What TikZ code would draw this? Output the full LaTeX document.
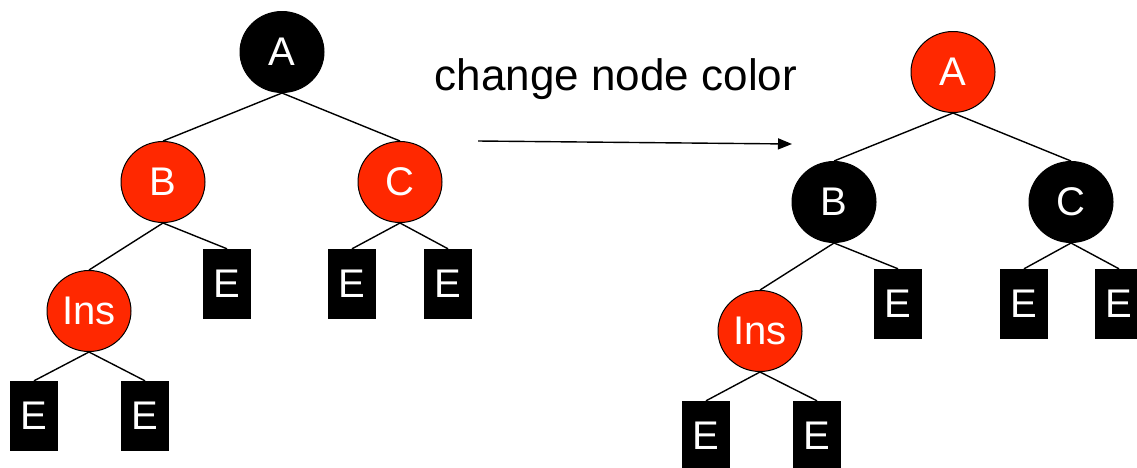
\documentclass[tikz,border=0pt]{standalone}
\usepackage{fontspec}
\setmainfont{Liberation Sans}
\usetikzlibrary{shapes.geometric,arrows.meta}
\definecolor{rbred}{RGB}{255,40,0}
\begin{document}
\begin{tikzpicture}[x=1pt,y=-1pt,
  rbnode/.style={ellipse,draw=black,line width=1pt,minimum width=84pt,minimum height=81pt,inner sep=0pt,text=white,font=\fontsize{40}{40}\selectfont},
  rednode/.style={rbnode,fill=rbred},
  blacknode/.style={rbnode,fill=black},
  leaf/.style={rectangle,fill=black,minimum width=48pt,minimum height=70pt,inner sep=0pt,text=white,font=\fontsize{40}{40}\selectfont},
  edge/.style={draw=black,line width=1.4pt}]
\useasboundingbox (0,0) rectangle (1137,467);
% left tree
\node[blacknode] (LA) at (282,52) {A};
\node[rednode] (LB) at (163,182) {B};
\node[rednode] (LC) at (400,182) {C};
\node[rednode] (LI) at (89,311) {Ins};
\node[leaf] (LBE) at (227,284) {E};
\node[leaf] (LCE1) at (352,284) {E};
\node[leaf] (LCE2) at (448,284) {E};
\node[leaf] (LIE1) at (34,416) {E};
\node[leaf] (LIE2) at (145,416) {E};
\draw[edge] (LA.south) -- (LB.north);
\draw[edge] (LA.south) -- (LC.north);
\draw[edge] (LB.south) -- (LI.north);
\draw[edge] (LB.south) -- (LBE.north);
\draw[edge] (LC.south) -- (LCE1.north);
\draw[edge] (LC.south) -- (LCE2.north);
\draw[edge] (LI.south) -- (LIE1.north);
\draw[edge] (LI.south) -- (LIE2.north);
% label and arrow
\node[font=\fontsize{44}{44}\selectfont,anchor=base] (lbl) at (616,90) {change node color};
\coordinate (arrS) at (478,141);
\coordinate (arrE) at (792,144);
\draw[line width=1.4pt,-{Triangle[length=14pt,width=11pt]}] (arrS) -- (arrE);
% right tree
\node[rednode] (RA) at (953,72) {A};
\node[blacknode] (RB) at (834,202) {B};
\node[blacknode] (RC) at (1071,202) {C};
\node[rednode] (RI) at (760,331) {Ins};
\node[leaf] (RBE) at (898,304) {E};
\node[leaf] (RCE1) at (1024,304) {E};
\node[leaf] (RCE2) at (1119,304) {E};
\node[leaf] (RIE1) at (706,436) {E};
\node[leaf] (RIE2) at (817,436) {E};
\draw[edge] (RA.south) -- (RB.north);
\draw[edge] (RA.south) -- (RC.north);
\draw[edge] (RB.south) -- (RI.north);
\draw[edge] (RB.south) -- (RBE.north);
\draw[edge] (RC.south) -- (RCE1.north);
\draw[edge] (RC.south) -- (RCE2.north);
\draw[edge] (RI.south) -- (RIE1.north);
\draw[edge] (RI.south) -- (RIE2.north);
\end{tikzpicture}
\end{document}
